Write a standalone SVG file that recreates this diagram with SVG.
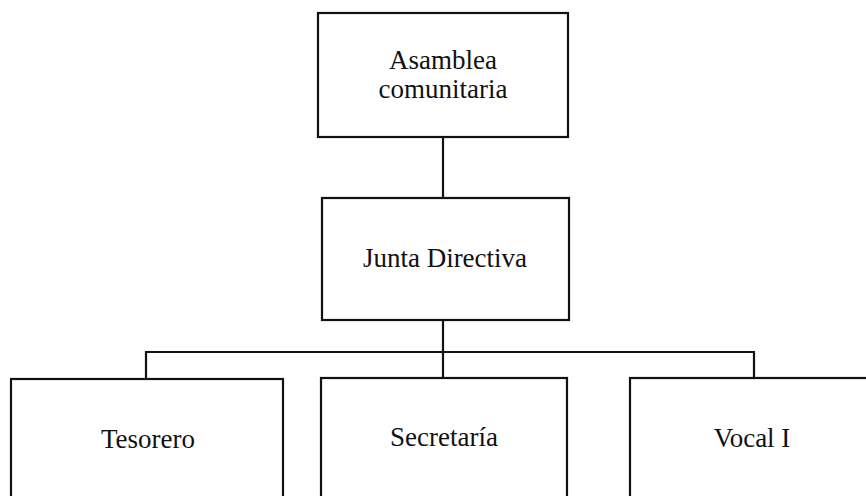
<svg xmlns="http://www.w3.org/2000/svg" width="866" height="496" viewBox="0 0 866 496">
<style>
.box{fill:#fff;stroke:#111;stroke-width:2.2}
.ln{fill:none;stroke:#111;stroke-width:2.2}
.t{font-family:'Liberation Serif','Times New Roman',serif;font-size:27px;fill:#111;text-anchor:middle}
</style>
<rect width="866" height="496" fill="#fff"/>
<g id="connectors">
<line class="ln" x1="443" y1="137" x2="443" y2="198"/>
<line class="ln" x1="443" y1="320" x2="443" y2="379"/>
<polyline class="ln" points="146,379 146,352 754,352 754,379"/>
</g>
<g id="asamblea">
<rect class="box" x="318" y="13" width="250" height="124"/>
<text class="t" x="443" y="69" font-size="25">Asamblea</text>
<text class="t" x="443" y="98" font-size="25">comunitaria</text>
</g>
<g id="junta">
<rect class="box" x="322" y="198" width="247" height="122"/>
<text class="t" x="445" y="267">Junta Directiva</text>
</g>
<g id="tesorero">
<rect class="box" x="11" y="379" width="272" height="130"/>
<text class="t" x="148" y="448">Tesorero</text>
</g>
<g id="secretaria">
<rect class="box" x="321" y="378" width="246" height="130"/>
<text class="t" x="444" y="446">Secretaría</text>
</g>
<g id="vocal">
<rect class="box" x="630" y="378" width="250" height="130"/>
<text class="t" x="752" y="447">Vocal I</text>
</g>
</svg>
